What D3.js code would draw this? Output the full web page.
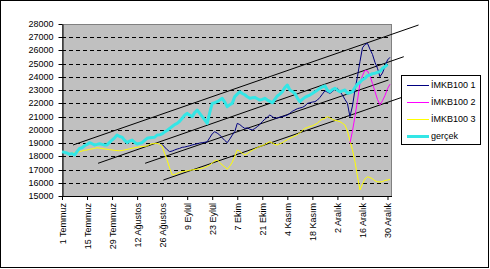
<!DOCTYPE html>
<html>
<head>
<meta charset="utf-8">
<script src="https://cdn.jsdelivr.net/npm/d3@7"></script>
<style>
  body { margin: 0; background: #fff; }
  text { font-family: "Liberation Sans", Arial, sans-serif; font-size: 9px; fill: #000; }
</style>
</head>
<body>
<div id="chart"></div>
<script>
// x tick labels, one every 10 trading days
var dateLabels = ['1 Temmuz', '15 Temmuz', '29 Temmuz', '12 Ağustos', '26 Ağustos', '9 Eylül', '23 Eylül',
  '7 Ekim', '21 Ekim', '4 Kasım', '18 Kasım', '2 Aralık', '16 Aralık', '30 Aralık'];
var yTicks = [15000, 16000, 17000, 18000, 19000, 20000, 21000, 22000, 23000, 24000, 25000, 26000, 27000, 28000];

// gerçek (day 0 .. 130)
var gercek = [18350, 18300, 18250, 18150, 18200, 18100, 18350, 18600, 18650, 18800,
  18900, 19030, 18950, 18860, 18900, 18950, 18900, 18850, 18860, 19050,
  19230, 19400, 19610, 19500, 19450, 19200, 19030, 19150, 19230, 19050,
  18930, 18980, 19030, 19200, 19360, 19400, 19420, 19440, 19610, 19620,
  19700, 19850, 19950, 20110, 20250, 20400, 20490, 20650, 20870, 21100,
  21250, 21100, 21000, 21300, 21500, 21250, 21000, 20750, 20490, 21300,
  22000, 22050, 22130, 22250, 22380, 22100, 21750, 21900, 22000, 22510,
  22700, 22880, 22750, 22650, 22500, 22380, 22420, 22450, 22350, 22250,
  22300, 22380, 22250, 22150, 22050, 22300, 22560, 22700, 22880, 23200,
  23390, 23010, 22900, 22750, 22400, 22130, 22300, 22450, 22550, 22630,
  22750, 22880, 23000, 23140, 23250, 23330, 23000, 22880, 23050, 23140,
  23000, 22880, 22950, 23010, 22760, 22800, 22880, 23210, 23450, 23600,
  23800, 23900, 24100, 24150, 24250, 24280, 24350, 24400, 24650, 24770,
  24950];

// IMKB100 1 (day 40 .. 131)
var imkb1Start = 40;
var imkb1 = [18900, 18700, 18500, 18350, 18400, 18480, 18550, 18600, 18680, 18700,
  18750, 18800, 18860, 18900, 18950, 19000, 19030, 19060, 19100, 19400,
  19700, 19860, 19750, 19610, 19400, 19200, 19030, 19300, 19600, 19860,
  20490, 20400, 20240, 20110, 20150, 20050, 19990, 20100, 20240, 20400,
  20620, 20800, 20950, 21120, 21000, 20870, 20900, 20950, 21000, 21050,
  21120, 21250, 21400, 21500, 21600, 21650, 21700, 21800, 22000, 22050,
  22100, 22130, 22250, 22450, 22700, 22950, 22850, 22760, 22900, 23050,
  23140, 22900, 22630, 22300, 22000, 21000, 21800, 23000, 24020, 25150,
  26200, 26450, 26540, 26100, 25700, 25100, 24650, 24020, 24300, 24800,
  25280, 25480];

// IMKB100 2 (day 115 .. 131)
var imkb2Start = 115;
var imkb2 = [19000, 19900, 21000, 22200, 23500, 24100, 24500, 24450, 24100, 23500,
  22900, 22300, 21880, 22200, 22600, 23100, 23450];

// IMKB100 3 (day 0 .. 131)
var imkb3 = [18350, 18300, 18250, 18200, 18220, 18260, 18300, 18350, 18400, 18450,
  18480, 18520, 18560, 18600, 18650, 18620, 18590, 18560, 18530, 18500,
  18480, 18450, 18430, 18420, 18440, 18480, 18520, 18570, 18610, 18650,
  18680, 18710, 18740, 18760, 18780, 18900, 18950, 18970, 18980, 18900,
  18780, 18200, 17700, 17100, 16600, 16620, 16700, 16780, 16840, 16870,
  16900, 16940, 16970, 17000, 17030, 17070, 17100, 17150, 17250, 17340,
  17500, 17650, 17720, 17550, 17340, 17200, 17020, 17250, 17550, 18000,
  18480, 18380, 18230, 18100, 18200, 18350, 18450, 18550, 18650, 18750,
  18800, 18900, 19000, 19110, 19000, 18900, 18860, 18950, 19030, 19150,
  19250, 19360, 19450, 19550, 19650, 19780, 19950, 20110, 20180, 20250,
  20300, 20400, 20490, 20700, 20800, 20870, 21000, 20900, 20780, 20720,
  20680, 20620, 20500, 20370, 19900, 19200, 18500, 17600, 16500, 15450,
  15900, 16300, 16450, 16400, 16300, 16150, 16080, 16060, 16080, 16180,
  16210, 16250];

// hand drawn trend channel lines: [day, value] -> [day, value]
var trendLines = [
  [[4.4, 18855], [142.4, 27924]],
  [[14.4, 17472], [136.5, 25529]],
  [[33.2, 17472], [130.4, 23768]],
  [[40.5, 16210], [136.5, 22505]]
];

var seriesNames = ['İMKB100 1', 'İMKB100 2', 'İMKB100 3', 'gerçek'];
var seriesColors = ['#000080', '#ff00ff', '#ffff00', '#33e6e6'];
var seriesWidths = [1, 1, 1, 3];

(function () {
  var width = 490, height = 269;
  var plotLeft = 62, plotRight = 391, plotTop = 24, plotBottom = 196;
  var font = '"Liberation Sans", Arial, sans-serif';

  var svg = d3.select('#chart')
    .append('svg')
    .attr('width', width)
    .attr('height', height);

  // outer frame
  svg.append('rect')
    .attr('x', 0.5).attr('y', 0.5)
    .attr('width', 488).attr('height', 267)
    .attr('fill', '#fff')
    .attr('stroke', '#000');

  var x = d3.scaleLinear().domain([0, 131.4]).range([plotLeft, plotRight]);
  var y = d3.scaleLinear().domain([15000, 28000]).range([plotBottom, plotTop]);

  // plot area
  svg.append('rect')
    .attr('x', plotLeft + 0.5).attr('y', plotTop + 0.5)
    .attr('width', plotRight - plotLeft).attr('height', plotBottom - plotTop)
    .attr('fill', '#c0c0c0')
    .attr('stroke', '#808080');

  // dashed grid
  svg.append('g')
    .selectAll('line')
    .data(yTicks.slice(1, -1))
    .enter()
    .append('line')
    .attr('x1', plotLeft).attr('x2', plotRight)
    .attr('y1', function (d) { return Math.round(y(d)) + 0.5; })
    .attr('y2', function (d) { return Math.round(y(d)) + 0.5; })
    .attr('stroke', '#000')
    .attr('stroke-dasharray', '4,3');

  // y axis
  var yAxis = svg.append('g')
    .attr('transform', 'translate(' + (plotLeft + 0.5) + ',0)')
    .call(d3.axisLeft(y).tickValues(yTicks).tickSize(4).tickSizeOuter(0).tickPadding(5)
      .tickFormat(d3.format('d')));
  yAxis.selectAll('.tick').attr('transform', function (d) {
    return 'translate(0,' + (Math.round(y(d)) + 0.5) + ')';
  });
  yAxis.selectAll('text').style('font-size', '9px').style('font-family', font);
  yAxis.selectAll('line, path').attr('stroke', '#000');

  // x axis
  var dayTicks = dateLabels.map(function (d, i) { return i * 10; });
  var xAxis = svg.append('g')
    .attr('transform', 'translate(0,' + plotBottom + ')')
    .call(d3.axisBottom(x).tickValues(dayTicks).tickSize(4).tickSizeOuter(0)
      .tickFormat(function (d, i) { return dateLabels[i]; }));
  xAxis.select('path').attr('d', 'M' + plotLeft + ',0.5H' + (plotRight + 1));
  xAxis.selectAll('line, path').attr('stroke', '#000');
  xAxis.selectAll('text')
    .style('font-size', '9px')
    .style('font-family', font)
    .attr('text-anchor', 'end')
    .attr('transform', 'rotate(-90)')
    .attr('x', -7)
    .attr('y', 0)
    .attr('dy', '0.35em');

  // trend lines
  svg.append('g')
    .selectAll('line')
    .data(trendLines)
    .enter()
    .append('line')
    .attr('x1', function (d) { return x(d[0][0]); })
    .attr('y1', function (d) { return y(d[0][1]); })
    .attr('x2', function (d) { return x(d[1][0]); })
    .attr('y2', function (d) { return y(d[1][1]); })
    .attr('stroke', '#000')
    .attr('stroke-width', 1);

  // series
  function toPoints(values, start) {
    return values.map(function (v, i) { return [start + i, v]; });
  }
  var series = [
    toPoints(imkb1, imkb1Start),
    toPoints(imkb2, imkb2Start),
    toPoints(imkb3, 0),
    toPoints(gercek, 0)
  ];
  var line = d3.line()
    .x(function (d) { return x(d[0]); })
    .y(function (d) { return y(d[1]); });

  // yellow first, then navy, magenta, cyan on top
  [2, 0, 1, 3].forEach(function (k) {
    svg.append('path')
      .attr('d', line(series[k]))
      .attr('fill', 'none')
      .attr('stroke', seriesColors[k])
      .attr('stroke-width', seriesWidths[k])
      .attr('stroke-linejoin', 'round');
  });

  // legend
  var legend = svg.append('g').attr('transform', 'translate(401,75)');
  legend.append('rect')
    .attr('x', 0.5).attr('y', 0.5)
    .attr('width', 79).attr('height', 69)
    .attr('fill', '#fff')
    .attr('stroke', '#000');
  var items = legend.selectAll('.item')
    .data(seriesNames)
    .enter()
    .append('g')
    .attr('class', 'item')
    .attr('transform', function (d, i) { return 'translate(0,' + (10 + i * 17) + ')'; });
  items.append('line')
    .attr('x1', 6).attr('x2', 28)
    .attr('y1', 0.5).attr('y2', 0.5)
    .attr('stroke', function (d, i) { return seriesColors[i]; })
    .attr('stroke-width', function (d, i) { return seriesWidths[i]; });
  items.append('text')
    .attr('x', 30)
    .attr('dy', '0.35em')
    .text(function (d) { return d; });
})();
</script>
</body>
</html>
